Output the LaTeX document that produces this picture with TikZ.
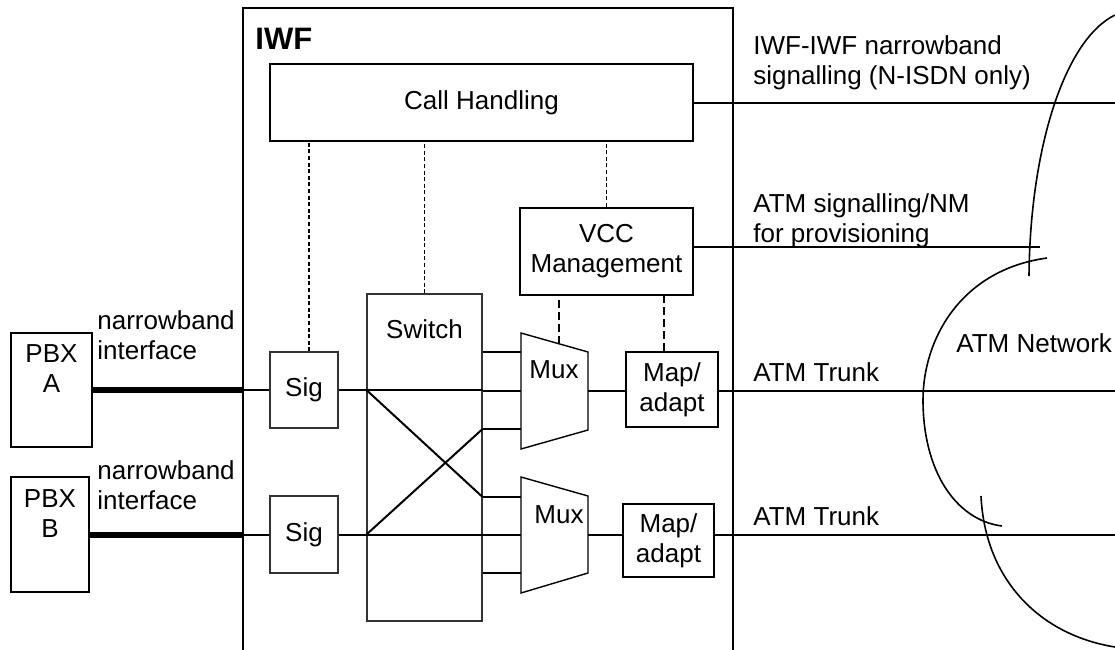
\documentclass[tikz,border=0pt]{standalone}
\usepackage{fontspec}
\setmainfont{Liberation Sans}
\tikzset{
  iwfnet/.style={x=0.5pt, y=-0.5pt, font=\fontsize{13}{15}\selectfont,
                 every node/.style={inner sep=0pt, align=center}},
  blk/.style={draw, line width=1.1pt},
  thinblk/.style={draw=black!80, line width=0.55pt},
  wire/.style={line width=1pt},
  fat/.style={line width=3pt},
  ctl/.style={line width=0.75pt, dash pattern=on 2pt off 1.3pt},
  mgmt/.style={line width=0.75pt, dash pattern=on 4pt off 2pt},
  muxline/.style={line width=0.7pt},
  cloudline/.style={line width=0.8pt},
  txt/.style={anchor=north west, align=left}
}

\begin{document}
\begin{tikzpicture}[iwfnet]
\useasboundingbox (0,0) rectangle (1115,649);
\clip (0,0) rectangle (1115,649);

% IWF frame and its blocks
\node[draw, line width=0.9pt, minimum width=245pt, minimum height=340pt, anchor=north west,
      label={[anchor=north west, xshift=6.5pt, yshift=-10.5pt, font=\fontsize{15.5}{18}\selectfont\bfseries]north west:IWF}]
      (iwf) at (242,7) {};
\node[blk, minimum width=211.5pt, minimum height=38.5pt] (ch) at (481.5,102.5) {Call Handling};
\node[blk, minimum width=86.5pt, minimum height=43.5pt] (vcc) at (606.5,251.5) {VCC\\Management};
\node[thinblk, minimum width=34pt, minimum height=38pt] (sig1) at (304,390) {Sig};
\node[thinblk, minimum width=34pt, minimum height=38.5pt] (sig2) at (304,534.5) {Sig};
\node[thinblk, minimum width=57.5pt, minimum height=163.5pt,
      label={[anchor=north, yshift=-13pt]north:Switch}] (sw) at (424.5,457.5) {};
\node[blk, minimum width=46pt, minimum height=37.5pt] (map1) at (672,389.5) {Map/\\adapt};
\node[blk, minimum width=45.5pt, minimum height=36.5pt] (map2) at (668.5,540.5) {Map/\\adapt};

% multiplexers
\draw[muxline] (521,333) coordinate (mux1nw) -- coordinate[pos=0.57] (mux1top) (588,352)
  -- (588,430) coordinate (mux1se) -- (521,449) -- cycle;
\draw[muxline] (521,477) coordinate (mux2nw) -- (588,496) -- (588,573) coordinate (mux2se)
  -- (521,593) -- cycle;
\node (mux1) at (554,370) {Mux};
\node (mux2) at (559,515) {Mux};

% PBXs
\node[blk, minimum width=40.5pt, minimum height=57pt,
      label={[anchor=north, yshift=-6pt]north:PBX\\A}] (pbxa) at (51.5,390) {};
\node[blk, minimum width=39pt, minimum height=57.5pt,
      label={[anchor=north, yshift=-6.5pt]north:PBX\\B}] (pbxb) at (50,534.5) {};

\coordinate (nbsig) at (1115,103);
\coordinate (prov) at (1040,247);
\coordinate (trunk1) at (1115,391);
\coordinate (trunk2) at (1115,535);

% user side
\draw[fat] (pbxa.east) -- (pbxa.east -| iwf.west);
\draw[fat] (pbxb.east) -- (pbxb.east -| iwf.west);
\draw[wire] (iwf.west |- sig1) -- (sig1.west);
\draw[wire] (iwf.west |- sig2) -- (sig2.west);
\draw[wire] (sig1.east) -- (sw.west |- sig1);
\draw[wire] (sig2.east) -- (sw.west |- sig2);

% switch fabric
\draw[wire] (sw.west |- sig1) -- (sw.east |- sig1);
\draw[wire] (sw.west |- sig2) -- (sw.east |- sig2);
\draw[wire] (sw.west |- sig1) -- (sw.east |- 0,497);
\draw[wire] (sw.west |- sig2) -- (sw.east |- 0,429);
\foreach \y in {352,391,429} \draw[wire] (sw.east |- 0,\y) -- (mux1nw |- 0,\y);
\foreach \y in {497,535,573} \draw[wire] (sw.east |- 0,\y) -- (mux2nw |- 0,\y);

% trunk side
\draw[wire] (mux1se |- trunk1) -- (map1.west |- trunk1);
\draw[wire] (mux2se |- trunk2) -- (map2.west |- trunk2);
\draw[wire] (map1.east |- trunk1) -- (trunk1);
\draw[wire] (map2.east |- trunk2) -- (trunk2);
\draw[wire] (ch.east |- nbsig) -- (nbsig);
\draw[wire] (vcc.east |- prov) -- (prov);

% control
\draw[ctl] ([xshift=2.5pt]sig1.north) -- ([xshift=2.5pt]sig1.north |- ch.south);
\draw[ctl] (sw.north) -- (sw.north |- ch.south);
\draw[ctl] (vcc.north) -- (vcc.north |- ch.south);
\draw[mgmt] (mux1top) -- (mux1top |- vcc.south);
\draw[mgmt] ([xshift=-4pt]map1.north) -- ([xshift=-4pt]map1.north |- vcc.south);

% ATM network cloud
\draw[cloudline] (1115,15) .. controls (1064,40) and (1030,150) .. (1029,276);
\draw[cloudline] (1047,258) .. controls (960,270) and (923,340) .. (923,400)
  .. controls (923,470) and (955,520) .. (1002,526);
\draw[cloudline] (981,496) .. controls (985,580) and (1040,635) .. (1115,647);

\node[txt] (lblnba) at (97,310) {narrowband\\interface};
\node[txt] (lblnbb) at (97,460) {narrowband\\interface};
\node[txt] (lblsig) at (753,35) {IWF-IWF narrowband\\signalling (N-ISDN only)};
\node[txt] (lblprov) at (753,193) {ATM signalling/NM\\for provisioning};
\node[txt] (lbltr1) at (753,362) {ATM Trunk};
\node[txt] (lbltr2) at (753,506) {ATM Trunk};
\node[txt] (lblatm) at (956,333) {ATM Network};
\end{tikzpicture}
\end{document}
